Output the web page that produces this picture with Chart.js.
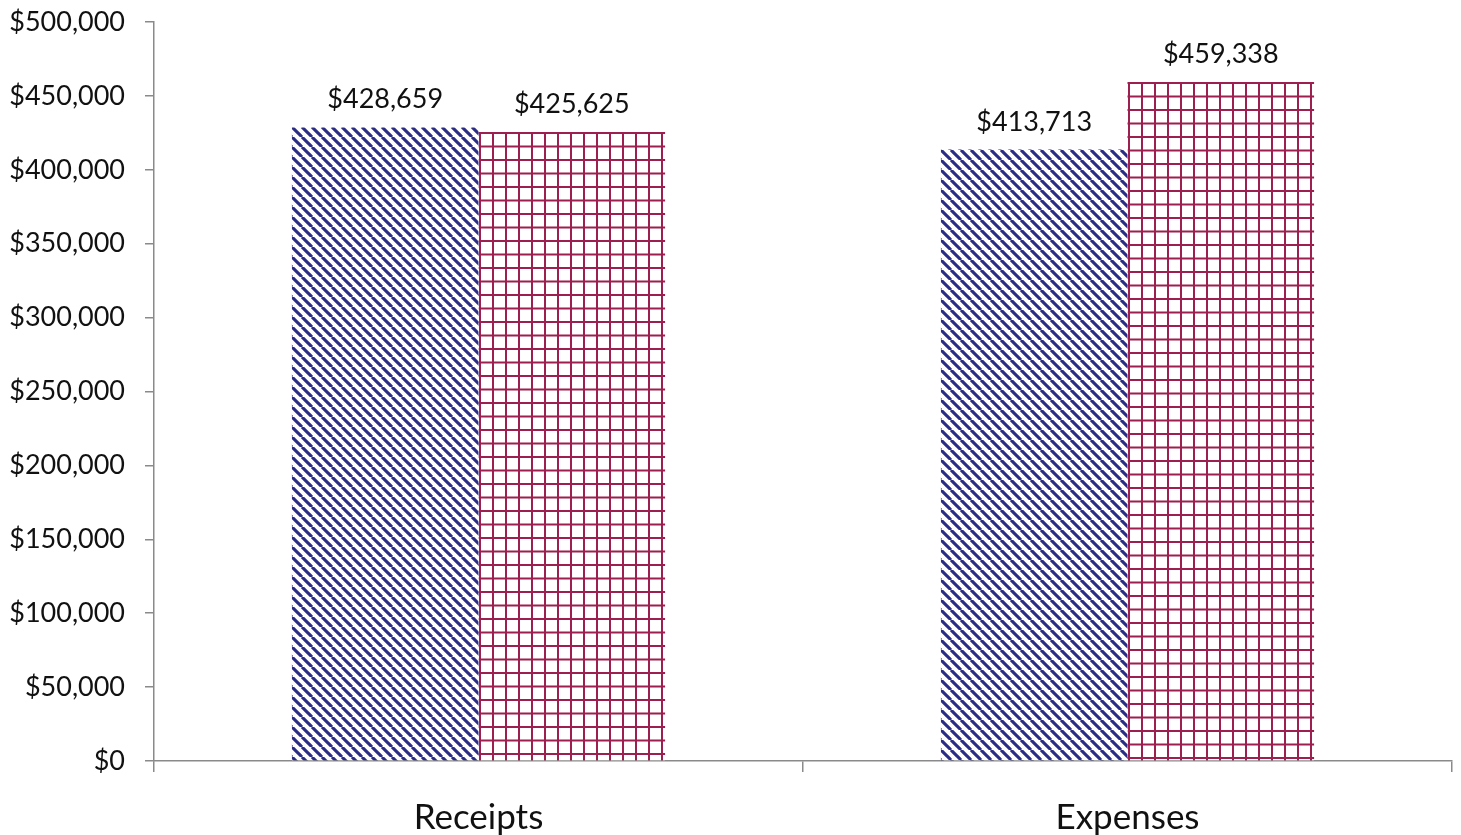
<!DOCTYPE html>
<html>
<head>
<meta charset="utf-8">
<script src="https://cdn.jsdelivr.net/npm/chart.js@4"></script>
<style>
html,body{margin:0;padding:0;background:#fff;}
#wrap{width:1461px;height:835px;position:relative;}
</style>
</head>
<body>
<div id="wrap"><canvas id="c" width="1461" height="835"></canvas></div>
<script>
const categories = ['Receipts', 'Expenses'];
const series1 = [428659, 413713];
const series2 = [425625, 459338];
const yTicks = [0, 50000, 100000, 150000, 200000, 250000, 300000, 350000, 400000, 450000, 500000];

const canvas = document.getElementById('c');
const ctx = canvas.getContext('2d');

function stripePattern() {
  const s = 10;
  const t = document.createElement('canvas');
  t.width = s; t.height = s;
  const g = t.getContext('2d');
  g.fillStyle = '#ffffff';
  g.fillRect(0, 0, s, s);
  g.strokeStyle = '#2b2d84';
  g.lineWidth = 3.1;
  [-s, 0, s].forEach(x0 => {
    g.beginPath();
    g.moveTo(x0, 0);
    g.lineTo(x0 + s, s);
    g.stroke();
  });
  return ctx.createPattern(t, 'repeat');
}

function gridPattern() {
  const w = 26, h = 27;
  const t = document.createElement('canvas');
  t.width = w; t.height = h;
  const g = t.getContext('2d');
  g.fillStyle = '#ffffff';
  g.fillRect(0, 0, w, h);
  g.fillStyle = '#9c1f4f';
  g.fillRect(0, 0, 2, h);
  g.fillRect(13, 0, 2, h);
  g.fillRect(0, 0, w, 2);
  g.fillRect(0, 13.5, w, 2);
  return ctx.createPattern(t, 'repeat');
}

const bluePats = categories.map(() => stripePattern());
const redPats = categories.map(() => gridPattern());

const fmt = v => '$' + Number(v).toLocaleString('en-US');

const alignPatterns = {
  id: 'alignPatterns',
  beforeDatasetsDraw(chart) {
    [bluePats, redPats].forEach((pats, di) => {
      const meta = chart.getDatasetMeta(di);
      meta.data.forEach((bar, i) => {
        const left = bar.x - bar.width / 2;
        if (pats[i].setTransform) {
          pats[i].setTransform(new DOMMatrix().translate(Math.round(left), Math.round(bar.y)));
        }
      });
    });
  }
};

const valueLabels = {
  id: 'valueLabels',
  afterDatasetsDraw(chart) {
    const c = chart.ctx;
    c.save();
    c.font = '27px Lato';
    c.fillStyle = '#111';
    c.textAlign = 'center';
    c.textBaseline = 'alphabetic';
    chart.data.datasets.forEach((ds, di) => {
      const meta = chart.getDatasetMeta(di);
      meta.data.forEach((bar, i) => {
        c.fillText(fmt(ds.data[i]), bar.x, bar.y - 19);
      });
    });
    c.restore();
  }
};

new Chart(canvas, {
  type: 'bar',
  data: {
    labels: categories,
    datasets: [
      { label: 'Series 1', data: series1, backgroundColor: bluePats, borderWidth: 0 },
      { label: 'Series 2', data: series2, backgroundColor: redPats, borderWidth: 0 }
    ]
  },
  options: {
    responsive: false,
    animation: false,
    devicePixelRatio: 1,
    layout: { padding: { left: 0, right: 9, top: 22, bottom: 0 } },
    plugins: { legend: { display: false }, tooltip: { enabled: false } },
    datasets: { bar: { categoryPercentage: 0.575, barPercentage: 1 } },
    scales: {
      x: {
        offset: true,
        grid: { display: true, drawOnChartArea: false, drawTicks: true, tickLength: 11, color: '#8a8a8a', lineWidth: 1.5, offset: true },
        border: { display: true, color: '#8a8a8a', width: 1.5 },
        ticks: { color: '#111', font: { family: 'Lato', size: 35, lineHeight: 1.2 }, padding: 25, maxRotation: 0 },
        afterFit(scale) { scale.height = 74; }
      },
      y: {
        min: 0, max: 500000,
        afterBuildTicks(scale) { scale.ticks = yTicks.map(v => ({ value: v })); },
        grid: { display: true, drawOnChartArea: false, drawTicks: true, tickLength: 24, tickBorderDash: [0, 15, 9, 200], tickBorderDashOffset: 0, color: '#8a8a8a', lineWidth: 1.5 },
        border: { display: true, color: '#8a8a8a', width: 1.5 },
        ticks: { color: '#111', font: { family: 'Lato', size: 27 }, padding: 5, callback: v => fmt(v) },
        afterFit(scale) { scale.width = 154; }
      }
    }
  },
  plugins: [alignPatterns, valueLabels]
});
</script>
</body>
</html>
